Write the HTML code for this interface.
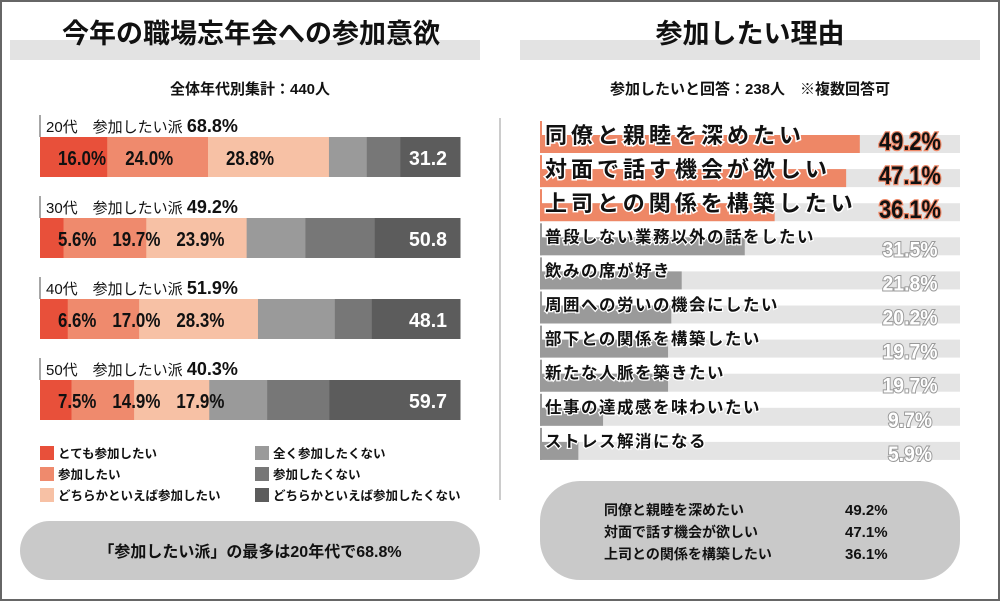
<!DOCTYPE html>
<html><head><meta charset="utf-8"><style>
html,body{margin:0;padding:0;background:#fff}
svg{display:block}
text{font-family:"Liberation Sans","Noto Sans CJK JP",sans-serif}
.cond{font-family:"Liberation Sans Narrow","Liberation Sans","Noto Sans CJK JP",sans-serif;font-weight:bold}
</style></head><body>
<svg id="c" width="1000" height="601" viewBox="0 0 1000 601" xmlns="http://www.w3.org/2000/svg">
<rect x="1" y="1" width="998" height="599" fill="#fff" stroke="#666" stroke-width="2"/>
<rect x="10" y="40" width="470" height="20" fill="#e3e3e3"/>
<rect x="520" y="40" width="460" height="20" fill="#e3e3e3"/>
<text x="251" y="43" font-size="27" font-weight="bold" text-anchor="middle" fill="#111">今年の職場忘年会への参加意欲</text>
<text x="750" y="43" font-size="27" font-weight="bold" text-anchor="middle" fill="#111">参加したい理由</text>
<text x="250" y="94" font-size="15" font-weight="bold" text-anchor="middle" fill="#111">全体年代別集計：440人</text>
<text x="750" y="94" font-size="15" font-weight="bold" text-anchor="middle" fill="#111">参加したいと回答：238人　※複数回答可</text>
<line x1="500" y1="118" x2="500" y2="500" stroke="#ccc" stroke-width="2"/>
<g id="left"></g><g id="right"></g>
<rect x="20" y="521" width="460" height="59" rx="29.5" fill="#c9c9c9"/>
<text x="250" y="557" font-size="16" font-weight="bold" text-anchor="middle" fill="#111">「参加したい派」の最多は20年代で68.8%</text>
<rect x="540" y="481" width="420" height="99" rx="40" fill="#c9c9c9"/>
<g font-size="14" font-weight="bold" fill="#111">
<text x="604" y="515">同僚と親睦を深めたい</text><text x="845" y="515" font-size="15">49.2%</text>
<text x="604" y="537">対面で話す機会が欲しい</text><text x="845" y="537" font-size="15">47.1%</text>
<text x="604" y="559">上司との関係を構築したい</text><text x="845" y="559" font-size="15">36.1%</text>
</g>
</svg>
<script>
const ages=['20代','30代','40代','50代'];
const wantTotal=[68.8,49.2,51.9,40.3];
const notTotal=['31.2','50.8','48.1','59.7'];
const veryWant=[16.0,5.6,6.6,7.5];
const want=[24.0,19.7,17.0,14.9];
const ratherWant=[28.8,23.9,28.3,17.9];
const notAtAll=[9.0,14.0,18.3,13.8];
const notWant=[8.0,16.5,8.8,14.8];
const ratherNot=[14.2,20.3,21.0,31.1];
const legendLabels=['とても参加したい','参加したい','どちらかといえば参加したい','全く参加したくない','参加したくない','どちらかといえば参加したくない'];
const reasons=['同僚と親睦を深めたい','対面で話す機会が欲しい','上司との関係を構築したい','普段しない業務以外の話をしたい','飲みの席が好き','周囲への労いの機会にしたい','部下との関係を構築したい','新たな人脈を築きたい','仕事の達成感を味わいたい','ストレス解消になる'];
const reasonVals=[49.2,47.1,36.1,31.5,21.8,20.2,19.7,19.7,9.7,5.9];

const NS='http://www.w3.org/2000/svg';
function mk(tag,attrs,parent,txt){const e=document.createElementNS(NS,tag);for(const k in attrs)e.setAttribute(k,attrs[k]);if(txt!==undefined)e.textContent=txt;parent.appendChild(e);return e;}
const colors=['#e8503a','#ef8a6d','#f7c1a5','#9a9a9a','#777777','#5c5c5c'];
const L=document.getElementById('left');
const x0=40,W=420;
const xs=v=>v/100*W;
const rowY=i=>137+i*81;
ages.forEach((a,i)=>{
  const y=rowY(i);
  const ln=mk('line',{x1:x0,y1:y-22,x2:x0,y2:y,stroke:'#888','stroke-width':1.5},L);
  
  
  const lt=mk('text',{x:x0+6,y:y-5,'font-size':15,fill:'#111'},L,a+'　参加したい派 ');
  
  
  mk('tspan',{'font-weight':'bold','font-size':18},lt,wantTotal[i].toFixed(1)+'%');
  const vals=[veryWant[i],want[i],ratherWant[i],notAtAll[i],notWant[i],ratherNot[i]];
  let acc=0;
  vals.forEach((v,j)=>{
    const r=mk('rect',{x:x0+xs(acc),y:y,width:xs(v)+0.5,height:40,fill:colors[j]},L);
    
    
    acc+=v;
  });
  acc=0;let prevEnd=-100;
  [veryWant[i],want[i],ratherWant[i]].forEach((v,j)=>{
    const s=v.toFixed(1)+'%';
    const w=s.length*9.6;
    const start=Math.max(x0+xs(acc)+18,prevEnd+16);
    const t=mk('text',{x:start,y:y+28,'font-size':20,fill:'#111',class:'cond',textLength:w,lengthAdjust:'spacingAndGlyphs'},L,s);
    
    
    prevEnd=start+w;
    acc+=v;
  });
  const tn=mk('text',{x:x0+W-13,y:y+28,'font-size':20,'text-anchor':'end',fill:'#fff',class:'cond',textLength:38,lengthAdjust:'spacingAndGlyphs'},L,notTotal[i]);
  
  
});
legendLabels.forEach((lab,j)=>{
  const col=Math.floor(j/3),row=j%3;
  const lx=40+col*215,ly=446+row*21;
  const s=mk('rect',{x:lx,y:ly,width:14,height:14,fill:colors[j]},L);
  
  
  const t=mk('text',{x:lx+18,y:ly+12,'font-size':12.5,fill:'#111','font-weight':'bold'},L,lab);
  
  
});
const R=document.getElementById('right');
const rx0=540,RW=650;
const rxs=v=>v/100*RW;
reasons.forEach((r,i)=>{
  const top=i<3;
  const y=135+i*34.1;
  const tr=mk('rect',{x:rx0,y:y,width:420,height:18,fill:'#e4e4e4'},R);
  
  
  const b=mk('rect',{x:rx0,y:y,width:rxs(reasonVals[i]),height:18,fill:top?'#ee8766':'#9a9a9a'},R);
  
  
  const ln=mk('line',{x1:rx0+1,y1:y-14,x2:rx0+1,y2:y+18,stroke:top?'#ee8766':'#9a9a9a','stroke-width':2},R);
  
  
  const t=mk('text',{x:rx0+5,y:top?y+8:y+5,'font-size':top?22:16.5,'letter-spacing':top?4:1.5,'font-weight':'bold',fill:'#111',stroke:'#fff','stroke-width':top?3:2.5,'paint-order':'stroke'},R,r);
  
  
  const s=reasonVals[i].toFixed(1)+'%';
  const v=mk('text',{x:910,y:y+(top?15:19),'font-size':top?25:21,'text-anchor':'middle',class:'cond',fill:top?'#111':'#fff',stroke:top?'#ee8766':'#999','stroke-width':top?2.5:2,'paint-order':'stroke',textLength:top?62:s.length*11,lengthAdjust:'spacingAndGlyphs'},R,s);
  
  
});
</script>
</body></html>
